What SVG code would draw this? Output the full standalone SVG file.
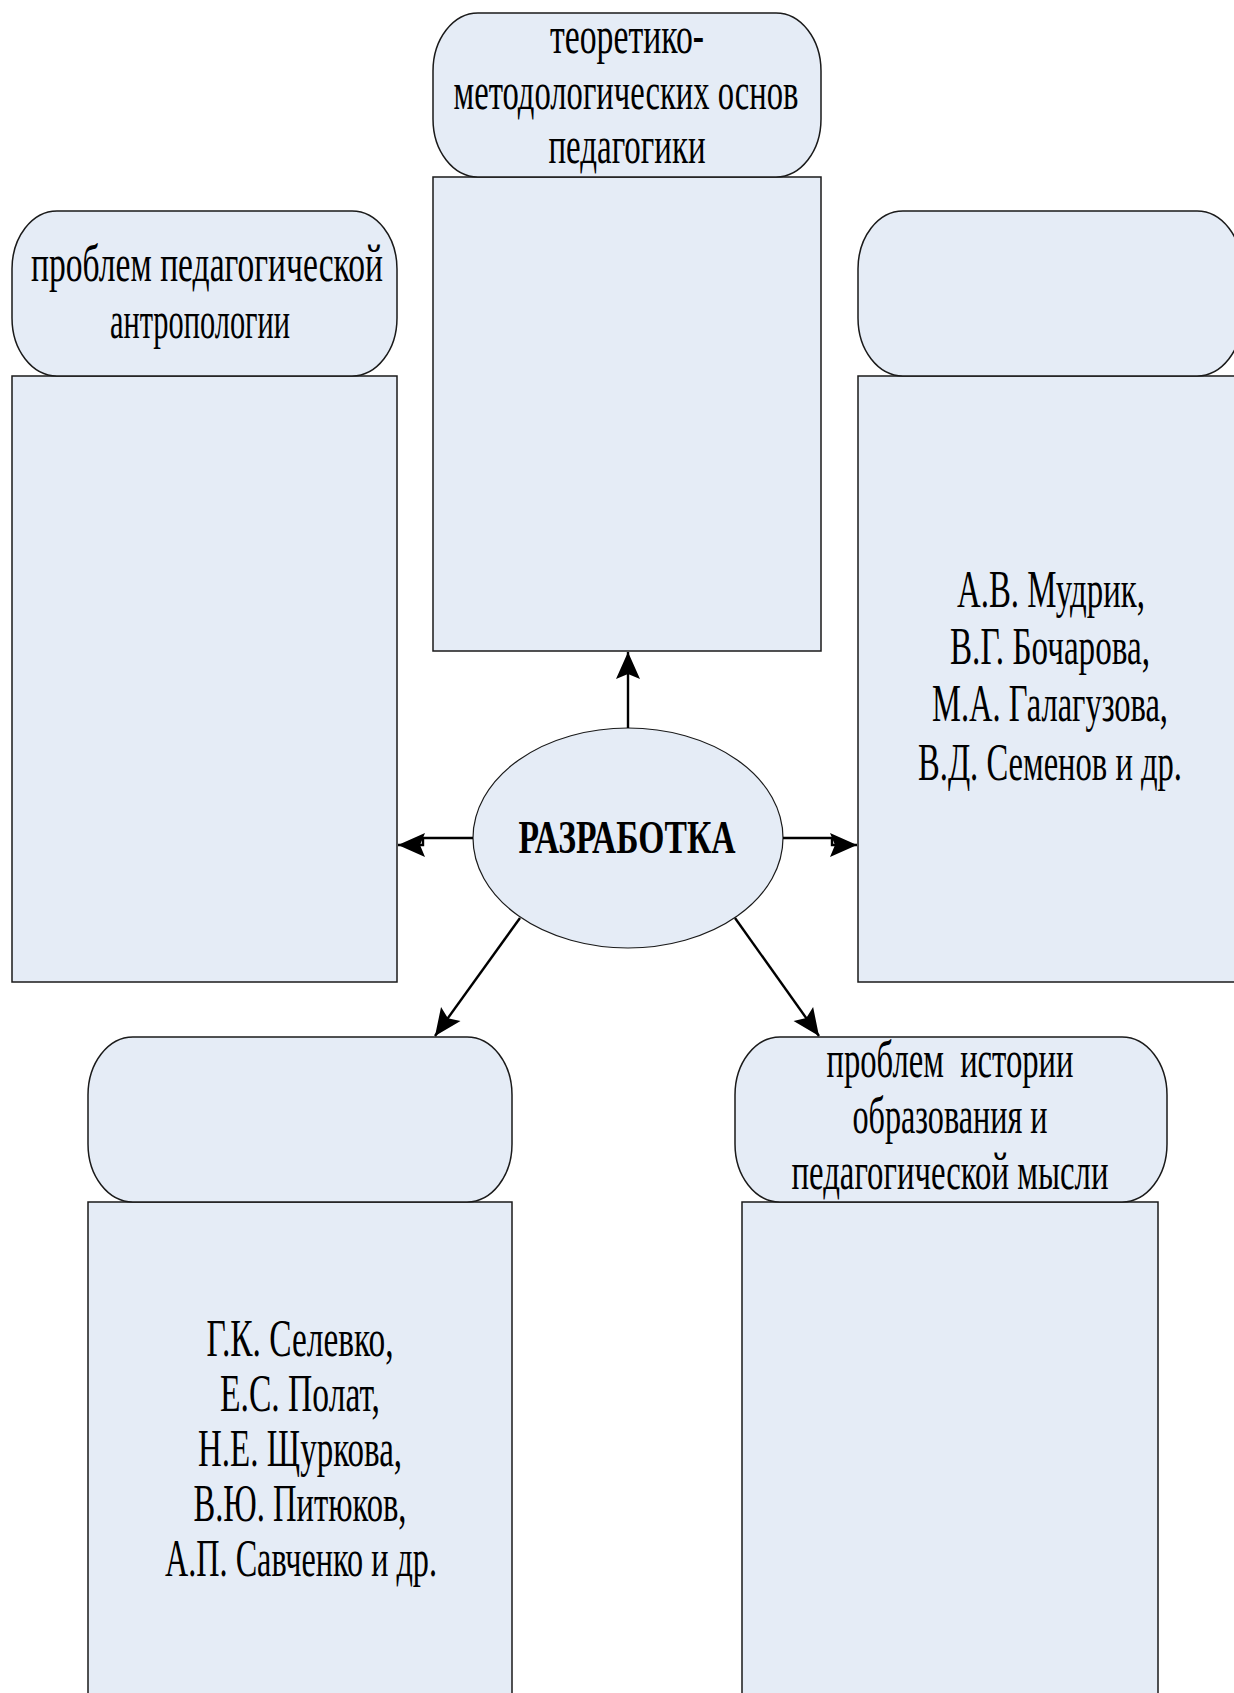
<svg xmlns="http://www.w3.org/2000/svg" width="1234" height="1693" viewBox="0 0 1234 1693">
<style>
.box{fill:#E5ECF6;stroke:#1a1a1a;stroke-width:1.5}
.t{font-family:"Liberation Serif","Times New Roman",serif;font-size:52px;fill:#000;text-anchor:middle;white-space:pre}
.b{font-family:"Liberation Serif","Times New Roman",serif;font-size:46px;font-weight:bold;fill:#000;text-anchor:middle}
.c{fill:none;stroke:#000;stroke-width:2.4}
</style>
<defs>
<marker id="ah" markerUnits="userSpaceOnUse" markerWidth="30" markerHeight="30" viewBox="-28 -13 30 26" refX="0" refY="0" orient="auto">
<path d="M-27,-12 L0,0 L-27,12 L-22,0 z" fill="#000"/>
</marker>
</defs>
<rect width="1234" height="1693" fill="#fff"/>

<g id="node-top">
<rect class="box" x="433" y="177" width="388" height="474"/>
<rect class="box" x="433" y="13" width="388" height="164" rx="45" ry="58"/>
<text class="t" x="627" y="53" textLength="154" lengthAdjust="spacingAndGlyphs">теоретико-</text>
<text class="t" x="626" y="109" textLength="345" lengthAdjust="spacingAndGlyphs">методологических основ</text>
<text class="t" x="627" y="163" textLength="157" lengthAdjust="spacingAndGlyphs">педагогики</text>
</g>

<g id="node-left">
<rect class="box" x="12" y="376" width="385" height="606"/>
<rect class="box" x="12" y="211" width="385" height="165" rx="45" ry="58"/>
<text class="t" x="207" y="281" textLength="352" lengthAdjust="spacingAndGlyphs">проблем педагогической</text>
<text class="t" x="200" y="338" textLength="180" lengthAdjust="spacingAndGlyphs">антропологии</text>
</g>

<g id="node-right">
<rect class="box" x="858" y="376" width="384" height="606"/>
<rect class="box" x="858" y="211" width="384" height="165" rx="45" ry="58"/>
<text class="t" x="1051" y="607" textLength="188" lengthAdjust="spacingAndGlyphs">А.В. Мудрик,</text>
<text class="t" x="1050" y="664" textLength="200" lengthAdjust="spacingAndGlyphs">В.Г. Бочарова,</text>
<text class="t" x="1050" y="721" textLength="236" lengthAdjust="spacingAndGlyphs">М.А. Галагузова,</text>
<text class="t" x="1050" y="780" textLength="264" lengthAdjust="spacingAndGlyphs">В.Д. Семенов и др.</text>
</g>

<g id="node-bottom-left">
<rect class="box" x="88" y="1202" width="424" height="520"/>
<rect class="box" x="88" y="1037" width="424" height="165" rx="45" ry="58"/>
<text class="t" x="300" y="1356" textLength="187" lengthAdjust="spacingAndGlyphs">Г.К. Селевко,</text>
<text class="t" x="300" y="1411" textLength="160" lengthAdjust="spacingAndGlyphs">Е.С. Полат,</text>
<text class="t" x="300" y="1466" textLength="204" lengthAdjust="spacingAndGlyphs">Н.Е. Щуркова,</text>
<text class="t" x="300" y="1521" textLength="213" lengthAdjust="spacingAndGlyphs">В.Ю. Питюков,</text>
<text class="t" x="301" y="1576" textLength="272" lengthAdjust="spacingAndGlyphs">А.П. Савченко и др.</text>
</g>

<g id="node-bottom-right">
<rect class="box" x="742" y="1202" width="416" height="520"/>
<rect class="box" x="735" y="1037" width="432" height="165" rx="45" ry="58"/>
<text class="t" x="950" y="1077" textLength="247" lengthAdjust="spacingAndGlyphs">проблем  истории</text>
<text class="t" x="950" y="1133" textLength="195" lengthAdjust="spacingAndGlyphs">образования и</text>
<text class="t" x="950" y="1189" textLength="317" lengthAdjust="spacingAndGlyphs">педагогической мысли</text>
</g>

<g id="node-center">
<ellipse class="box" cx="628" cy="838" rx="155" ry="110" style="stroke-width:1.2"/>
<text class="b" x="627" y="853" textLength="217" lengthAdjust="spacingAndGlyphs">РАЗРАБОТКА</text>
</g>

<g id="connectors">
<path class="c" d="M628,728 L628,652" marker-end="url(#ah)"/>
<path class="c" d="M473,838 L423,838 L423,845 L398,845" marker-end="url(#ah)"/>
<path class="c" d="M783,838 L832,838 L832,845 L857,845" marker-end="url(#ah)"/>
<path class="c" d="M520,918 L435,1036" marker-end="url(#ah)"/>
<path class="c" d="M735,918 L819,1036" marker-end="url(#ah)"/>
</g>
</svg>
